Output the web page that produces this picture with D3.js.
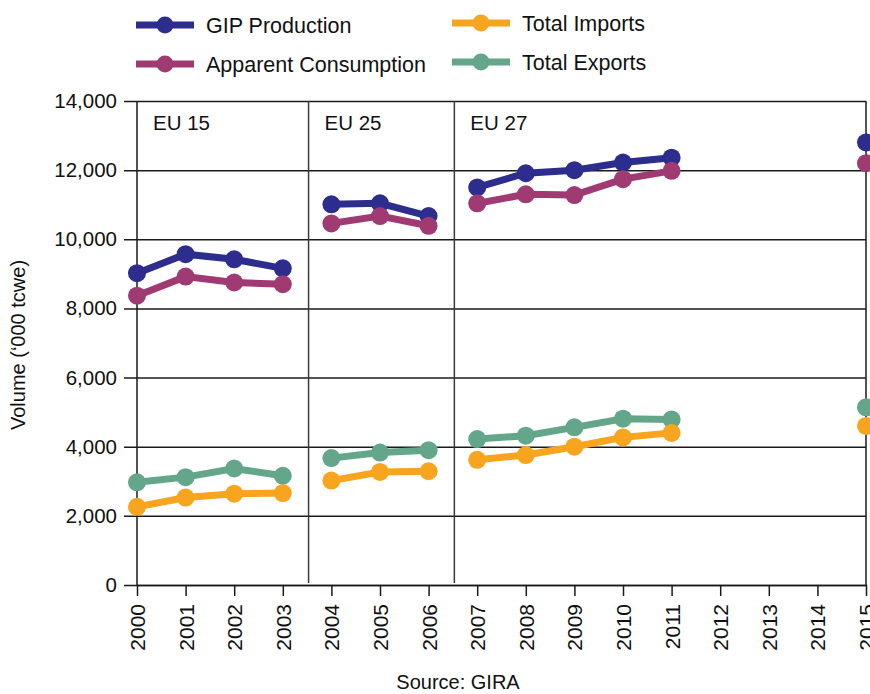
<!DOCTYPE html>
<html>
  <title>GIP volumes</title>

<head>
  <script type="text/javascript" src="https://d3js.org/d3.v7.min.js"></script>
  <style>
    body { margin: 0; background: #fff; }
    text { font-family: "Liberation Sans", Arial, sans-serif; fill: #111; }
  </style>
</head>

<body>
  <div class="graph"></div>
</body>

<script>

  /* Data */
  const years = [2000, 2001, 2002, 2003, 2004, 2005, 2006, 2007, 2008, 2009, 2010, 2011, 2012, 2013, 2014, 2015];
  const gipProduction = [9020, 9570, 9420, 9160, 11010, 11040, 10670, 11500, 11910, 12000, 12220, 12360, null, null, null, 12800];
  const apparentConsumption = [8370, 8920, 8750, 8700, 10460, 10670, 10390, 11040, 11300, 11280, 11740, 11980, null, null, null, 12200];
  const totalImports = [2260, 2530, 2640, 2660, 3020, 3270, 3290, 3620, 3760, 4000, 4270, 4400, null, null, null, 4600];
  const totalExports = [2970, 3120, 3370, 3160, 3670, 3830, 3900, 4220, 4320, 4560, 4810, 4790, null, null, null, 5140];
  const yTicks = [0, 2000, 4000, 6000, 8000, 10000, 12000, 14000];

  /* EU membership blocs: lines only join points inside a bloc */
  const blocLabels = ['EU 15', 'EU 25', 'EU 27'];
  const blocStart = [2000, 2004, 2007];
  const blocEnd = [2003, 2006, 2015];

  const series = [
    { name: 'Total Exports', values: totalExports, color: '#64a68a' },
    { name: 'Total Imports', values: totalImports, color: '#f7a51f' },
    { name: 'GIP Production', values: gipProduction, color: '#2c2d8d' },
    { name: 'Apparent Consumption', values: apparentConsumption, color: '#9f3a73' }
  ];

  const width = 870;
  const height = 694;
  const margin = { top: 101, left: 137, bottom: 109, right: 4 };

  const svg = d3.select('.graph')
    .append('svg')
    .attr('width', width)
    .attr('height', height);

  const xScale = d3.scaleLinear()
    .domain([2000, 2015])
    .range([margin.left, width - margin.right]);

  const yScale = d3.scaleLinear()
    .domain([0, 14000])
    .range([height - margin.bottom, margin.top]);

  const plotW = xScale(2015) - xScale(2000);

  /* Grid + y axis (drawn from the right edge so the lines stick out 13px on the left) */
  const yAxis = d3.axisLeft(yScale)
    .tickValues(yTicks)
    .tickFormat(d3.format(','))
    .tickSize(plotW + 13)
    .tickPadding(7);

  svg.append('g')
    .attr('class', 'y-axis')
    .attr('transform', `translate(${xScale(2015)},0)`)
    .call(yAxis)
    .call(g => g.select('.domain').remove())
    .call(g => g.selectAll('.tick line').attr('stroke', '#1a1a1a').attr('stroke-width', 1.5))
    .call(g => g.selectAll('.tick text')
      .attr('font-size', 20.5)
      .attr('font-family', '"Liberation Sans", Arial, sans-serif'));

  /* x axis */
  const xAxis = d3.axisBottom(xScale)
    .tickValues(years)
    .tickFormat(d3.format('d'))
    .tickSize(11)
    .tickPadding(8);

  svg.append('g')
    .attr('class', 'x-axis')
    .attr('transform', `translate(0, ${yScale(0)})`)
    .call(xAxis)
    .call(g => g.select('.domain').attr('stroke', '#1a1a1a').attr('stroke-width', 1.5))
    .call(g => g.selectAll('.tick line')
      .attr('stroke', '#1a1a1a')
      .attr('stroke-width', 1.5)
      .attr('display', d => (d === 2000 || d === 2015) ? 'none' : null))
    .call(g => g.selectAll('.tick text')
      .attr('transform', 'rotate(-90)')
      .attr('text-anchor', 'end')
      .attr('x', -19)
      .attr('y', 0)
      .attr('dy', '0.36em')
      .attr('font-size', 21)
      .attr('font-family', '"Liberation Sans", Arial, sans-serif'));

  /* frame */
  svg.append('line')
    .attr('x1', xScale(2000)).attr('x2', xScale(2000))
    .attr('y1', yScale(14000)).attr('y2', yScale(0))
    .attr('stroke', '#1a1a1a').attr('stroke-width', 1.5);

  svg.append('line')
    .attr('x1', xScale(2015)).attr('x2', xScale(2015))
    .attr('y1', yScale(14000)).attr('y2', yScale(0) + 1)
    .attr('stroke', '#1a1a1a').attr('stroke-width', 1.5);

  /* bloc dividers + labels */
  svg.selectAll('.divider')
    .data(blocStart.slice(1))
    .enter()
    .append('line')
    .attr('class', 'divider')
    .attr('x1', d => xScale(d - 0.47))
    .attr('x2', d => xScale(d - 0.47))
    .attr('y1', yScale(14000))
    .attr('y2', yScale(0) - 2)
    .attr('stroke', '#3a3a3a')
    .attr('stroke-width', 1.5);

  svg.selectAll('.bloc-label')
    .data(blocLabels)
    .enter()
    .append('text')
    .attr('class', 'bloc-label')
    .attr('x', (d, i) => (i === 0 ? xScale(blocStart[i]) : xScale(blocStart[i] - 0.47)) + 16)
    .attr('y', 130)
    .attr('font-size', 20.5)
    .text(d => d);

  /* lines */
  const line = d3.line()
    .defined(d => d.value !== null)
    .x(d => xScale(d.year))
    .y(d => yScale(d.value));

  series.forEach(s => {
    const points = years.map((y, i) => ({ year: y, value: s.values[i] }));

    blocStart.forEach((start, b) => {
      const seg = points.filter(p => p.year >= start && p.year <= blocEnd[b]);
      svg.append('path')
        .datum(seg)
        .attr('fill', 'none')
        .attr('stroke', s.color)
        .attr('stroke-width', 7)
        .attr('d', line);
    });

    svg.selectAll(null)
      .data(points.filter(p => p.value !== null))
      .enter()
      .append('circle')
      .attr('cx', d => xScale(d.year))
      .attr('cy', d => yScale(d.value))
      .attr('r', 9)
      .attr('fill', s.color);
  });

  /* legend */
  const legend = [
    { s: series[2], x: 136, y: 25 },
    { s: series[3], x: 136, y: 64 },
    { s: series[1], x: 452, y: 23 },
    { s: series[0], x: 452, y: 62 }
  ];

  const items = svg.selectAll('.legend')
    .data(legend)
    .enter()
    .append('g')
    .attr('class', 'legend')
    .attr('transform', d => `translate(${d.x},${d.y})`);

  items.append('line')
    .attr('x1', 0).attr('x2', 58)
    .attr('stroke', d => d.s.color)
    .attr('stroke-width', 7);

  items.append('circle')
    .attr('cx', 29)
    .attr('r', 8.5)
    .attr('fill', d => d.s.color);

  items.append('text')
    .attr('x', 70)
    .attr('dy', '0.36em')
    .attr('font-size', 21.5)
    .text(d => d.s.name);

  /* axis title + source */
  svg.append('text')
    .attr('transform', 'translate(25, 345) rotate(-90)')
    .attr('text-anchor', 'middle')
    .attr('font-size', 20)
    .text('Volume (\u2018000 tcwe)');

  svg.append('text')
    .attr('x', 458)
    .attr('y', 689)
    .attr('text-anchor', 'middle')
    .attr('font-size', 20)
    .text('Source: GIRA');

</script>

</html>
